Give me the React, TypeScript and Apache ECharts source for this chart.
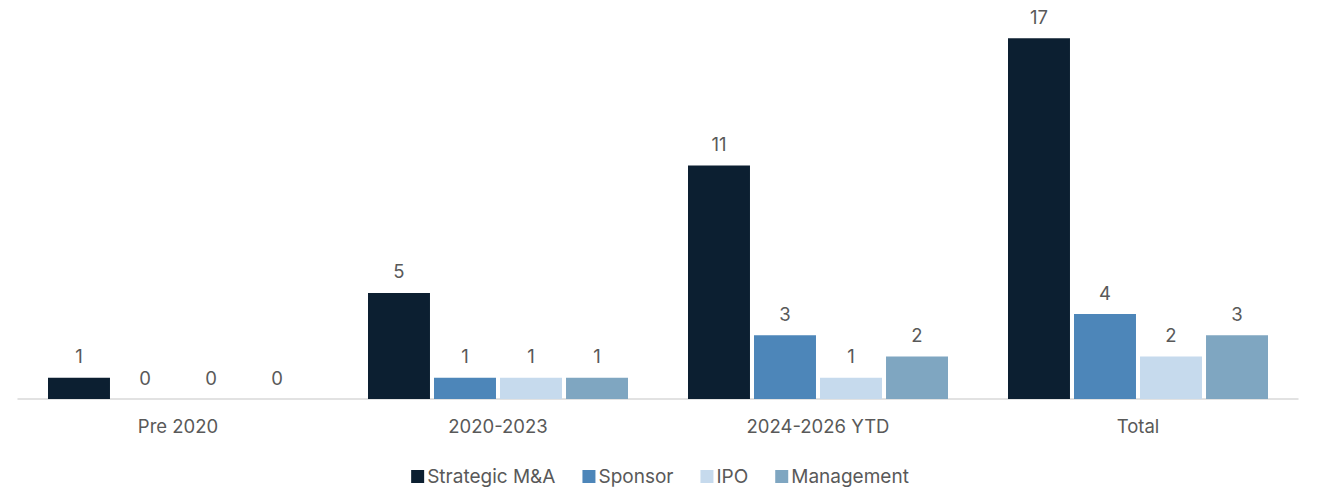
import React, { useEffect, useRef } from "react";
import * as echarts from "echarts";

const categories = ["Pre 2020", "2020-2023", "2024-2026 YTD", "Total"];
const strategic = [1, 5, 11, 17];
const sponsor = [0, 1, 3, 4];
const ipo = [0, 1, 1, 2];
const management = [0, 1, 2, 3];
const seriesNames = ["Strategic M&A", "Sponsor", "IPO", "Management"];
const colors = ["#0c1f31", "#4d86b9", "#c6daed", "#7fa6c1"];

export default function App() {
  const ref = useRef<HTMLDivElement>(null);
  useEffect(() => {
    if (!ref.current) return;
    const chart = echarts.init(ref.current, null, { renderer: "svg" });
    const data = [strategic, sponsor, ipo, management];
    const font = "Inter, 'Open Sans', sans-serif";
    chart.setOption({
      animation: false,
      textStyle: { fontFamily: font },
      grid: { left: 18, right: 22, top: 17, bottom: 105, containLabel: false },
      legend: {
        bottom: 13,
        left: "center",
        itemWidth: 13,
        itemHeight: 13,
        itemGap: 27,
        icon: "rect",
        textStyle: { fontSize: 19, color: "#595959", fontFamily: font, padding: [0, 0, 0, -2] },
        data: seriesNames,
      },
      xAxis: {
        type: "category",
        data: categories,
        axisTick: { show: false },
        axisLine: { lineStyle: { color: "#d9d9d9", width: 1.5 } },
        axisLabel: { fontSize: 18.5, color: "#595959", margin: 17, fontFamily: font },
      },
      yAxis: {
        type: "value",
        min: 0,
        max: 18,
        show: false,
        splitLine: { show: false },
      },
      series: seriesNames.map((name, i) => ({
        name,
        type: "bar",
        data: data[i],
        barGap: "6.5%",
        barCategoryGap: "18.75%",
        itemStyle: { color: colors[i] },
        label: {
          show: true,
          position: "top",
          distance: 12,
          fontSize: 18.5,
          color: "#595959",
          fontFamily: font,
        },
      })),
    });
    return () => chart.dispose();
  }, []);
  return (
    <div
      ref={ref}
      style={{ position: "fixed", left: 0, top: 0, width: 1320, height: 504, background: "#fff" }}
    />
  );
}
